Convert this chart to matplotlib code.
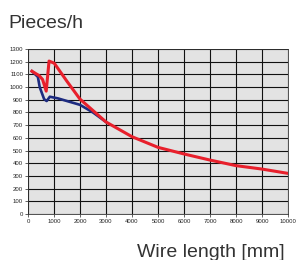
import numpy as np
import matplotlib
matplotlib.use('Agg')
import matplotlib.pyplot as plt

# Wire length (mm) and throughput (pieces/h)
red_x = [150, 430, 560, 700, 810, 1010, 1500, 2000, 2500, 3000, 4000, 5000, 6000, 7000, 8000, 9000, 10000]
red_y = [1125, 1090, 1060, 968, 1205, 1188, 1045, 905, 815, 725, 609, 525, 473, 425, 381, 354, 320]

blue_x = [150, 380, 450, 530, 620, 718, 840, 1150, 2000, 2500, 3000]
blue_y = [1125, 1080, 1000, 955, 905, 890, 924, 911, 860, 800, 725]

x_ticks = list(range(0, 10001, 1000))
y_ticks = list(range(0, 1301, 100))

plt.rcParams['font.family'] = ['Liberation Sans', 'DejaVu Sans']

fig = plt.figure(figsize=(2.96, 2.60), dpi=100)
ax = fig.add_axes([28 / 296, 1 - 214 / 260, 260 / 296, 165 / 260])

ax.set_facecolor('#e3e3e3')
ax.plot(blue_x, blue_y, color='#1d2b80', lw=1.9, solid_joinstyle='round', zorder=3)
ax.plot(red_x, red_y, color='#e8202c', lw=2.2, solid_joinstyle='round', zorder=4)

ax.set_xlim(0, 10000)
ax.set_ylim(0, 1300)
ax.set_xticks(x_ticks)
ax.set_yticks(y_ticks)
ax.tick_params(labelsize=4.3, length=2, width=0.5, pad=1.5, colors='#222222')
ax.grid(True, color='#111111', lw=0.8)
ax.set_axisbelow(True)
for s in ax.spines.values():
    s.set_linewidth(0.6)
    s.set_color('#333333')

fig.text(8 / 296, 1 - 28 / 260, 'Pieces/h', fontsize=14, color='#333333', va='baseline', ha='left')
fig.text(285 / 296, 1 - 257 / 260, 'Wire length [mm]', fontsize=14, color='#333333', va='baseline', ha='right')

fig.savefig('out.png', dpi=100)
